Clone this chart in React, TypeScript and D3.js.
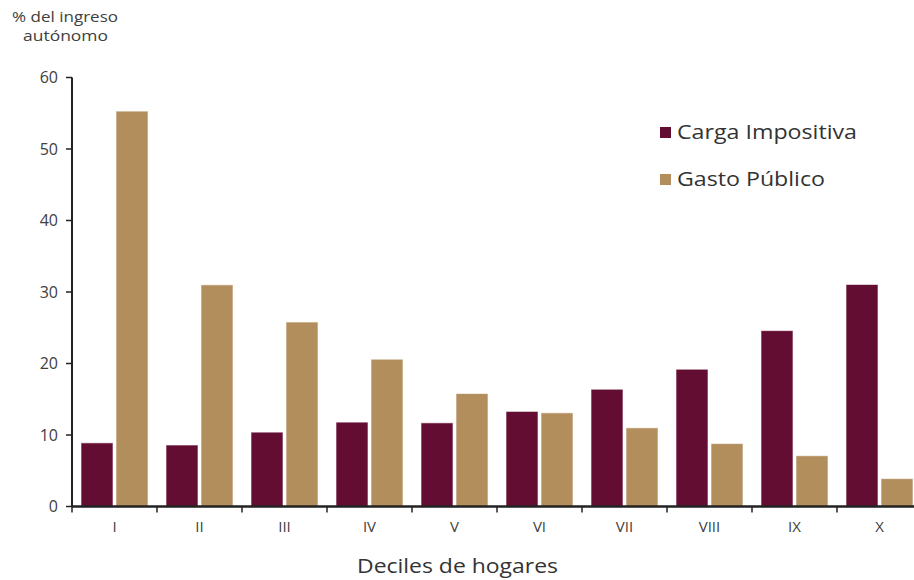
import React from "react";
import * as d3 from "d3";

const deciles = ["I", "II", "III", "IV", "V", "VI", "VII", "VIII", "IX", "X"];
const cargaImpositiva = [8.9, 8.6, 10.4, 11.8, 11.7, 13.3, 16.4, 19.2, 24.6, 31.05];
const gastoPublico = [55.3, 31.0, 25.8, 20.6, 15.8, 13.1, 11.0, 8.8, 7.1, 3.9];
const yTicks = [0, 10, 20, 30, 40, 50, 60];
const seriesNames = ["Carga Impositiva", "Gasto Público"];
const colors = ["#640d33", "#b38e5d"];

const W = 914;
const H = 580;
const left = 72;
const bottom = 506.5;
const top = 77.5;
const bandW = 85;
const font = "'Open Sans', 'Noto Sans', sans-serif";
const textColor = "#404040";

export default function App() {
  const x = d3
    .scaleBand<string>()
    .domain(deciles)
    .range([left, left + bandW * deciles.length])
    .paddingInner(0)
    .paddingOuter(0);
  const y = d3.scaleLinear().domain([0, 60]).range([bottom, top]);
  const barW = 32;
  const offsets = [9, 44];
  const series = [cargaImpositiva, gastoPublico];
  const legendLens = [180, 148];

  return (
    <svg
      width={W}
      height={H}
      style={{ position: "absolute", left: 0, top: 0, background: "#fff" }}
      fontFamily={font}
    >
      {/* y title */}
      <text x={12} y={22} fontSize={15} fill={textColor} textLength={106} lengthAdjust="spacingAndGlyphs">
        % del ingreso
      </text>
      <text x={23} y={41} fontSize={15} fill={textColor} textLength={85} lengthAdjust="spacingAndGlyphs">
        autónomo
      </text>

      {/* bars */}
      {series.map((vals, si) =>
        deciles.map((d, i) => (
          <rect
            key={`${si}-${i}`}
            x={(x(d) as number) + offsets[si]}
            y={y(vals[i])}
            width={barW}
            height={bottom - y(vals[i])}
            fill={colors[si]}
            stroke="#ffffff"
            strokeOpacity={0.6}
            strokeWidth={1}
          />
        ))
      )}

      {/* y axis */}
      <line x1={left} x2={left} y1={top} y2={bottom} stroke="#222" strokeWidth={2} />
      {yTicks.map((t) => (
        <g key={t}>
          <line x1={left - 6} x2={left} y1={y(t)} y2={y(t)} stroke="#222" strokeWidth={1.5} />
          <text
            x={left - 14}
            y={y(t)}
            dy="0.35em"
            textAnchor="end"
            fontSize={16}
            fill={textColor}
          >
            {t}
          </text>
        </g>
      ))}

      {/* x axis */}
      <line x1={left} x2={W} y1={bottom} y2={bottom} stroke="#222" strokeWidth={2.5} />
      {deciles.map((d) => (
        <line
          key={"t" + d}
          x1={x(d) as number}
          x2={x(d) as number}
          y1={bottom}
          y2={bottom + 6}
          stroke="#222"
          strokeWidth={1.5}
        />
      ))}
      {deciles.map((d) => (
        <text
          key={"l" + d}
          x={(x(d) as number) + bandW / 2}
          y={532}
          textAnchor="middle"
          fontSize={15}
          fill={textColor}
        >
          {d}
        </text>
      ))}
      <text x={357} y={573} fontSize={20} fill="#333" textLength={201} lengthAdjust="spacingAndGlyphs">
        Deciles de hogares
      </text>

      {/* legend */}
      {seriesNames.map((n, i) => (
        <g key={n}>
          <rect x={660} y={127 + i * 47} width={11} height={11} fill={colors[i]} />
          <text
            x={677}
            y={139 + i * 47}
            fontSize={20}
            fill="#333"
            textLength={legendLens[i]}
            lengthAdjust="spacingAndGlyphs"
          >
            {n}
          </text>
        </g>
      ))}
    </svg>
  );
}
